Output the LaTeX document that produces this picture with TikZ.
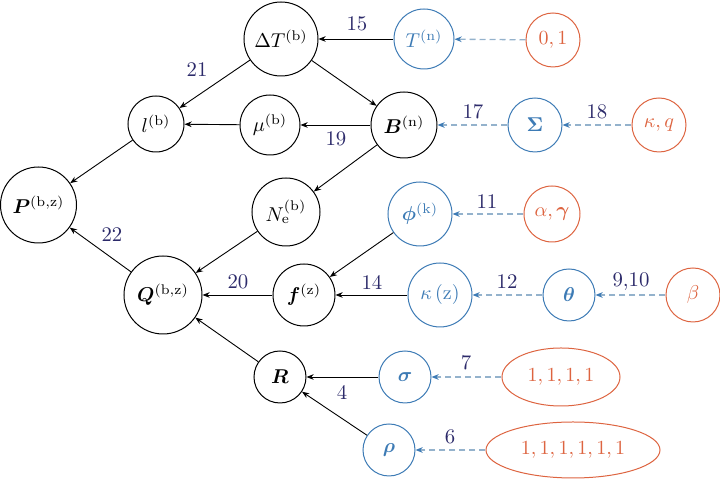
\documentclass[tikz,border=0pt]{standalone}
\usepackage{amsmath,bm}
\usetikzlibrary{shapes.geometric,arrows.meta}
\definecolor{blueC}{HTML}{3D7BB5}
\definecolor{orangeC}{HTML}{DD6440}
\definecolor{dashC}{HTML}{94B2CC}
\definecolor{navyC}{HTML}{2C2A6A}
\begin{document}
\begin{tikzpicture}[x=0.5pt,y=-0.5pt,
  font=\fontsize{10.4}{12}\selectfont,
  var/.style={circle,draw=black,line width=0.5pt,inner sep=0pt},
  bvar/.style={circle,draw=blueC,text=blueC,line width=0.5pt,inner sep=0pt},
  ovar/.style={circle,draw=orangeC,text=orangeC,line width=0.5pt,inner sep=0pt},
  oell/.style={ellipse,draw=orangeC,text=orangeC,line width=0.5pt,inner sep=0pt},
  sarr/.style={draw=black,line width=0.45pt,-{Stealth[length=3.6pt,width=2.8pt]}},
  darr/.style={draw=dashC,line width=0.65pt,dash pattern=on 3pt off 2pt,-{Stealth[length=3.6pt,width=2.8pt,color=blueC]}},
  lab/.style={text=navyC,inner sep=0pt}]
\useasboundingbox (0,0) rectangle (720,480);
% nodes
\node[var,minimum size=37pt] (DT) at (281,39) {$\Delta T^{(\mathrm{b})}$};
\node[bvar,minimum size=30pt] (Tn) at (424,39) {$T^{(\mathrm{n})}$};
\node[ovar,minimum size=27pt] (c01) at (553,40) {$0,1$};
\node[var,minimum size=28pt] (l) at (156,124) {$l^{(\mathrm{b})}$};
\node[var,minimum size=30pt] (mu) at (270,125) {$\mu^{(\mathrm{b})}$};
\node[var,minimum size=33pt] (B) at (404,125) {$\bm{B}^{(\mathrm{n})}$};
\node[bvar,minimum size=27pt] (Sig) at (535,125) {$\bm{\Sigma}$};
\node[ovar,minimum size=27pt] (kq) at (659,125) {$\kappa,q$};
\node[var,minimum size=38pt] (P) at (38.5,205) {$\bm{P}^{(\mathrm{b,z})}$};
\node[var,minimum size=34pt] (Ne) at (286,212) {$N_{\mathrm{e}}^{(\mathrm{b})}$};
\node[bvar,minimum size=32pt] (phi) at (420,214) {$\bm{\phi}^{(\mathrm{k})}$};
\node[ovar,minimum size=28pt] (ag) at (552,214) {$\alpha,\bm{\gamma}$};
\node[var,minimum size=39pt] (Q) at (163,295) {$\bm{Q}^{(\mathrm{b,z})}$};
\node[var,minimum size=31pt] (f) at (304,295) {$\bm{f}^{(\mathrm{z})}$};
\node[bvar,minimum size=32pt] (kz) at (440,295) {$\kappa\left(\mathrm{z}\right)$};
\node[bvar,minimum size=26pt] (th) at (569,295) {$\bm{\theta}$};
\node[ovar,minimum size=27pt] (be) at (693,295) {$\beta$};
\node[var,minimum size=26pt] (R) at (280,377) {$\bm{R}$};
\node[bvar,minimum size=26pt] (sg) at (405,377) {$\bm{\sigma}$};
\node[oell,minimum width=59pt,minimum height=29pt] (o4) at (561,377) {$1,1,1,1$};
\node[bvar,minimum size=26pt] (rho) at (389,450) {$\bm{\rho}$};
\node[oell,minimum width=87pt,minimum height=28pt] (o6) at (573,450) {$1,1,1,1,1,1$};
% solid edges
\draw[sarr] (Tn) -- (DT);
\draw[sarr] (DT) -- (l);
\draw[sarr] (DT) -- (B);
\draw[sarr] (B) -- (mu);
\draw[sarr] (mu) -- (l);
\draw[sarr] (l) -- (P);
\draw[sarr] (B) -- (Ne);
\draw[sarr] (Ne) -- (Q);
\draw[sarr] (Q) -- (P);
\draw[sarr] (f) -- (Q);
\draw[sarr] (phi) -- (f);
\draw[sarr] (kz) -- (f);
\draw[sarr] (R) -- (Q);
\draw[sarr] (sg) -- (R);
\draw[sarr] (rho) -- (R);
% dashed edges
\draw[darr] (c01) -- (Tn);
\draw[darr] (Sig) -- (B);
\draw[darr] (kq) -- (Sig);
\draw[darr] (ag) -- (phi);
\draw[darr] (th) -- (kz);
\draw[darr] (be) -- (th);
\draw[darr] (o4) -- (sg);
\draw[darr] (o6) -- (rho);
% labels
\node[lab] (L15) at (357,24) {15};
\node[lab] (L21) at (197,70) {21};
\node[lab] (L19) at (336,139) {19};
\node[lab] (L17) at (473,112) {17};
\node[lab] (L18) at (597,112) {18};
\node[lab] (L11) at (487,202) {11};
\node[lab] (L22) at (112,235) {22};
\node[lab] (L20) at (238,282) {20};
\node[lab] (L14) at (372,282) {14};
\node[lab] (L12) at (507,282) {12};
\node[lab] (L910) at (631,282) {9,10};
\node[lab] (L7) at (466,363) {7};
\node[lab] (L4) at (342,392) {4};
\node[lab] (L6) at (450,437) {6};
\end{tikzpicture}
\end{document}
